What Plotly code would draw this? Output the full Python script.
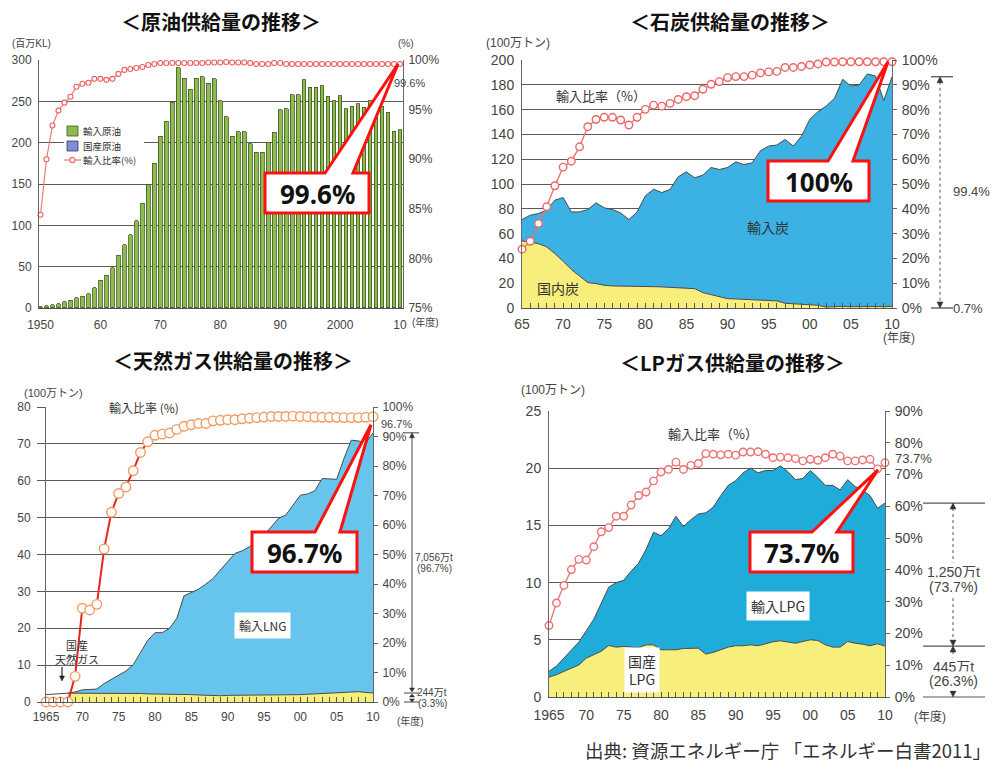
import plotly.graph_objects as go

W, H = 1000, 763
FONT = "Liberation Sans, Noto Sans CJK JP, sans-serif"
JFONT = "Noto Sans CJK JP, sans-serif"
TXT = "#444"
GRID = "#5a5a5a"

# ---------------- data ----------------
oil_years = list(range(1950, 2011))
oil_import = [1.5, 2.5, 3.5, 5, 7, 9, 12, 14, 17, 24,
              33, 39, 48, 63, 76, 88, 105, 126, 148, 174,
              207, 225, 248, 290, 277, 264, 277, 279, 271, 277,
              250, 231, 207, 213, 213, 198, 188, 188, 200, 212,
              239, 240, 257, 257, 275, 266, 266, 268, 255, 250,
              256, 240, 243, 246, 242, 250, 247, 243, 236, 213, 215]
oil_domestic = [0.3, 0.3, 0.4, 0.4, 0.4, 0.4, 0.4, 0.4, 0.5, 0.5,
                0.6, 0.8, 0.9, 0.9, 0.8, 0.8, 0.8, 0.9, 0.9, 0.9,
                0.9, 0.9, 0.8, 0.8, 0.7, 0.7, 0.7, 0.6, 0.6, 0.6,
                0.5, 0.5, 0.5, 0.5, 0.5, 0.6, 0.7, 0.7, 0.7, 0.7,
                0.7, 0.8, 0.8, 0.8, 0.9, 0.9, 0.9, 0.9, 0.9, 0.8,
                0.8, 0.8, 0.8, 0.9, 0.9, 1.0, 1.0, 1.0, 1.0, 0.9, 0.9]
oil_ratio = [84.4, 90.0, 93.4, 94.9, 95.7, 96.3, 97.3, 97.6, 97.7, 98.1,
             98.1, 98.0, 98.1, 98.6, 99.0, 99.1, 99.2, 99.3, 99.5, 99.6,
             99.7, 99.7, 99.7, 99.7, 99.7, 99.7, 99.7, 99.7, 99.75, 99.75,
             99.75, 99.8, 99.75, 99.75, 99.75, 99.7, 99.6, 99.6, 99.6, 99.7,
             99.7, 99.6, 99.6, 99.6, 99.6, 99.6, 99.6, 99.6, 99.6, 99.6,
             99.6, 99.6, 99.6, 99.6, 99.6, 99.6, 99.6, 99.6, 99.6, 99.6, 99.6]

years = list(range(1965, 2011))
coal_total = [71.3, 74.8, 76.2, 78.9, 87.0, 89.1, 77.5, 77.5, 79.4, 84.8,
              80.8, 79.4, 76.7, 71.3, 77.5, 90.4, 95.8, 93.1, 95.6, 105.8,
              109.8, 105.0, 107.1, 113.3, 111.7, 113.3, 117.9, 115.7, 117.1, 126.8,
              130.6, 131.4, 135.9, 130.6, 138.6, 152.1, 158.3, 162.9, 169.0, 184.4,
              179.0, 179.8, 188.7, 187.1, 167.2, 186.5]
coal_domestic = [54.1, 53.3, 51.9, 49.3, 43.9, 37.7, 31.0, 25.8, 20.5, 19.7,
                 18.3, 17.8, 17.8, 17.8, 17.5, 17.5, 17.2, 17.0, 16.7, 16.7,
                 16.4, 15.6, 12.4, 10.8, 9.4, 7.5, 7.3, 7.0, 6.7, 6.5,
                 6.2, 5.7, 3.8, 3.5, 3.0, 2.7, 2.2, 0.8, 1.2, 1.3,
                 1.1, 1.3, 1.4, 1.2, 1.1, 1.3]
coal_ratio = [23.7, 26.9, 34.1, 40.8, 49.3, 56.8, 59.2, 65.0, 73.1, 76.0,
              76.9, 76.9, 75.8, 73.8, 76.9, 80.1, 81.8, 81.4, 82.5, 84.1,
              85.2, 85.6, 88.2, 90.2, 91.3, 92.9, 93.3, 93.3, 93.9, 94.8,
              95.2, 95.4, 97.0, 97.0, 97.4, 98.0, 98.4, 99.2, 99.2, 99.3,
              99.3, 99.3, 99.3, 99.3, 99.3, 99.3]

gas_total = [2.0, 2.1, 2.3, 2.4, 2.7, 3.3, 3.3, 3.5, 5.0, 6.2,
             7.4, 8.4, 10.1, 13.3, 16.7, 18.8, 18.8, 20.0, 22.7, 28.8,
             29.7, 30.6, 32.0, 33.5, 35.8, 38.1, 40.3, 41.0, 42.1, 43.5,
             45.3, 47.5, 49.8, 50.7, 53.4, 56.1, 56.4, 57.3, 60.6, 60.4,
             60.4, 66.0, 71.0, 70.8, 70.2, 73.0]
gas_domestic = [2.0, 2.1, 2.3, 2.4, 2.4, 2.4, 2.4, 2.5, 2.5, 2.4,
                2.4, 2.4, 2.3, 2.3, 2.2, 2.2, 2.1, 2.1, 2.0, 2.0,
                2.0, 1.9, 1.8, 1.8, 1.7, 1.8, 1.8, 1.8, 1.8, 1.8,
                1.9, 1.9, 1.9, 1.9, 2.0, 2.0, 2.1, 2.2, 2.3, 2.4,
                2.5, 2.6, 2.9, 2.8, 2.6, 2.44]
gas_ratio = [0, 0, 0, 0, 8.7, 31.8, 31.2, 33.1, 51.9, 64.3,
             70.7, 72.9, 78.4, 84.6, 88.2, 90.4, 90.8, 91.2, 92.4, 93.5,
             94.0, 94.4, 94.4, 95.3, 95.5, 95.7, 95.7, 96.0, 96.2, 96.4,
             96.6, 96.8, 96.8, 96.8, 96.9, 96.8, 96.7, 96.6, 96.5, 96.5,
             96.5, 96.4, 96.4, 96.4, 96.5, 96.7]
gas_fill_start = 3  # shaded areas begin in FY1968; earlier years drawn as a line only

lpg_total = [2.24, 2.7, 3.4, 4.1, 4.8, 5.8, 6.8, 8.2, 9.6, 10.0,
             10.2, 11.0, 11.7, 12.9, 14.4, 14.1, 14.7, 15.8, 14.9, 15.5,
             16.0, 16.1, 16.6, 17.6, 18.5, 18.9, 19.6, 20.0, 19.6, 19.8,
             19.8, 20.2, 19.7, 19.0, 19.1, 19.8, 19.2, 18.5, 18.5, 18.1,
             19.0, 18.4, 18.1, 17.6, 16.5, 16.95]
lpg_domestic = [1.74, 1.95, 2.24, 2.5, 2.8, 3.4, 3.7, 4.0, 4.5, 4.36,
                4.42, 4.36, 4.3, 4.56, 4.56, 4.13, 4.13, 4.13, 4.24, 4.24,
                4.27, 3.75, 3.9, 4.13, 4.36, 4.48, 4.48, 4.56, 4.48, 4.65,
                4.83, 4.91, 4.83, 4.7, 4.85, 5.0, 4.94, 4.56, 4.36, 4.36,
                4.85, 4.7, 4.62, 4.48, 4.65, 4.45]
lpg_ratio = [22.5, 29.6, 35.1, 40.1, 43.3, 43.1, 47.3, 52.0, 53.3, 56.9,
             56.9, 60.4, 63.4, 64.5, 68.0, 70.8, 71.6, 73.9, 71.6, 72.9,
             73.5, 76.6, 76.4, 76.2, 76.4, 76.1, 77.1, 77.1, 77.2, 76.4,
             75.3, 75.5, 75.3, 75.0, 74.3, 74.8, 74.5, 75.3, 76.4, 75.8,
             74.3, 74.3, 74.6, 74.8, 71.8, 73.7]

oil_ticks = [1950, 1960, 1970, 1980, 1990, 2000, 2010]
oil_ticktext = ["1950", "60", "70", "80", "90", "2000", "10"]
five_ticks = list(range(1965, 2011, 5))
coal_ticktext = ["65", "70", "75", "80", "85", "90", "95", "00", "05", "10"]
gas_ticktext = ["1965", "70", "75", "80", "85", "90", "95", "00", "05", "10"]

# ---------------- layout geometry (pixels) ----------------
P_OIL = dict(x0=39, x1=403, y0=60, y1=308, xr=[1949.75, 2010.5], yl=[0, 300], yr=[75, 100])
P_COAL = dict(x0=522, x1=892, y0=60, y1=308, xr=[1965, 2010], yl=[0, 200], yr=[0, 100])
P_GAS = dict(x0=46, x1=373, y0=407, y1=702, xr=[1965, 2010], yl=[0, 80], yr=[0, 100])
P_LPG = dict(x0=549, x1=885, y0=411, y1=697, xr=[1965, 2010], yl=[0, 25], yr=[0, 90])


def pp(x, y):
    return x / W, 1 - y / H


def to_px(p, xv, yv, right=False):
    rng = p['yr'] if right else p['yl']
    px = p['x0'] + (xv - p['xr'][0]) / (p['xr'][1] - p['xr'][0]) * (p['x1'] - p['x0'])
    py = p['y1'] - (yv - rng[0]) / (rng[1] - rng[0]) * (p['y1'] - p['y0'])
    return px, py


OIL_GREEN = "#8dbb50"
OIL_GREEN_LINE = "#3e5d1f"
OIL_BLUE = "#7f8fd6"
OIL_LINE = "#f07a7a"
OIL_MARK = "#ee5f5f"
YELLOW = "#f7ee7c"
OUTLINE = "#4a4a4a"

fig = go.Figure()

# ---- oil ----
fig.add_trace(go.Bar(x=oil_years, y=oil_domestic, name="国産原油", showlegend=False,
                     marker=dict(color=OIL_BLUE, line=dict(color="#2f3a66", width=0.6)),
                     width=0.62, xaxis="x", yaxis="y"))
fig.add_trace(go.Bar(x=oil_years, y=oil_import, name="輸入原油", showlegend=False,
                     marker=dict(color=OIL_GREEN, line=dict(color=OIL_GREEN_LINE, width=0.8)),
                     width=0.62, xaxis="x", yaxis="y"))
fig.add_trace(go.Scatter(x=oil_years, y=oil_ratio, name="輸入比率(%)", showlegend=False,
                         mode="lines+markers", xaxis="x", yaxis="y2", cliponaxis=False,
                         line=dict(color=OIL_LINE, width=1.2),
                         marker=dict(symbol="circle", size=5, color="white",
                                     line=dict(color=OIL_MARK, width=1.1))))


def add_area(x, dom, tot, xa, ya_l, blue):
    fig.add_trace(go.Scatter(x=x, y=dom, mode="lines", fill="tozeroy", fillcolor=YELLOW,
                             line=dict(color=OUTLINE, width=1), showlegend=False,
                             xaxis=xa, yaxis=ya_l))
    fig.add_trace(go.Scatter(x=x, y=tot, mode="lines", fill="tonexty", fillcolor=blue,
                             line=dict(color=OUTLINE, width=1), showlegend=False,
                             xaxis=xa, yaxis=ya_l))


def add_ratio(x, ratio, xa, ya_r, mcol, lcol, msize, lw):
    fig.add_trace(go.Scatter(x=x, y=ratio, mode="lines+markers", showlegend=False,
                             cliponaxis=False, xaxis=xa, yaxis=ya_r,
                             line=dict(color=lcol, width=lw),
                             marker=dict(symbol="circle", size=msize, color="white",
                                         line=dict(color=mcol, width=1.4))))


add_area(years, coal_domestic, coal_total, "x2", "y3", "#3cb1e3")
add_ratio(years, coal_ratio, "x2", "y4", "#ec6666", "#ee7070", 7.5, 1.4)

s = gas_fill_start
fig.add_trace(go.Scatter(x=years[:s + 1], y=gas_total[:s + 1], mode="lines",
                         line=dict(color=OUTLINE, width=1), showlegend=False,
                         xaxis="x3", yaxis="y5"))
add_area(years[s:], gas_domestic[s:], gas_total[s:], "x3", "y5", "#67c4ec")
add_ratio(years, gas_ratio, "x3", "y6", "#f29a62", "#e8251e", 9.5, 2)

add_area(years, lpg_domestic, lpg_total, "x4", "y7", "#20acd9")
add_ratio(years, lpg_ratio, "x4", "y8", "#ee7272", "#ef7676", 7.5, 1.4)


def xdom(p):
    return [p['x0'] / W, p['x1'] / W]


def ydom(p):
    return [1 - p['y1'] / H, 1 - p['y0'] / H]


def left_axis(p, xa, dtick, size, ticks="", ticklen=0):
    return dict(domain=ydom(p), anchor=xa, range=p['yl'], dtick=dtick, tick0=0,
                showgrid=True, gridcolor=GRID, gridwidth=1, zeroline=False,
                showline=True, linecolor="#666", linewidth=1, automargin=False,
                ticks=ticks, ticklen=ticklen, tickcolor=GRID,
                tickfont=dict(size=size, color=TXT, family=FONT), ticklabelstandoff=4)


def right_axis(p, xa, over, dtick, size, ticks="outside", ticklen=4):
    return dict(overlaying=over, side="right", anchor=xa, range=p['yr'], dtick=dtick,
                tick0=p['yr'][0], ticksuffix="%", showgrid=False, zeroline=False,
                showline=True, linecolor="#666", linewidth=1, automargin=False,
                ticks=ticks, ticklen=ticklen, tickcolor="#666",
                tickfont=dict(size=size, color=TXT, family=FONT), ticklabelstandoff=2)


def x_axis(p, ya, tickvals, ticktext, size, minor=True, standoff=4):
    d = dict(domain=xdom(p), anchor=ya, range=p['xr'], tickmode="array",
             tickvals=tickvals, ticktext=ticktext, showgrid=False, zeroline=False,
             showline=True, linecolor="#555", linewidth=1, automargin=False,
             tickfont=dict(size=size, color=TXT, family=FONT), ticklabelstandoff=standoff)
    if minor:
        d.update(ticks="inside", ticklen=5, tickcolor="#555",
                 minor=dict(dtick=1, tick0=1965, ticks="inside", ticklen=5, tickcolor="#555"))
    else:
        d.update(ticks="")
    return d


fig.update_layout(
    width=W, height=H, margin=dict(l=0, r=0, t=0, b=0, pad=0, autoexpand=False),
    paper_bgcolor="white", plot_bgcolor="white", barmode="stack", showlegend=False,
    font=dict(family=FONT, color=TXT),
    xaxis=x_axis(P_OIL, "y", oil_ticks, oil_ticktext, 12, minor=False, standoff=6),
    yaxis=left_axis(P_OIL, "x", 50, 12),
    yaxis2=right_axis(P_OIL, "x", "y", 5, 12, ticks=""),
    xaxis2=x_axis(P_COAL, "y3", five_ticks, coal_ticktext, 14, standoff=3),
    yaxis3=left_axis(P_COAL, "x2", 20, 14),
    yaxis4=right_axis(P_COAL, "x2", "y3", 10, 14),
    xaxis3=x_axis(P_GAS, "y5", five_ticks, gas_ticktext, 12, standoff=4),
    yaxis5=left_axis(P_GAS, "x3", 10, 12, ticks="outside", ticklen=8),
    yaxis6=right_axis(P_GAS, "x3", "y5", 10, 12),
    xaxis4=x_axis(P_LPG, "y7", five_ticks, gas_ticktext, 14, standoff=5),
    yaxis7=left_axis(P_LPG, "x4", 5, 14),
    yaxis8=right_axis(P_LPG, "x4", "y7", 10, 14),
)

shapes = []
annots = []


def pts_path(pts, close=True):
    s_ = "M " + " L ".join(f"{x / W:.5f},{1 - y / H:.5f}" for x, y in pts)
    return s_ + (" Z" if close else "")


def line_px(x0, y0, x1, y1, color="#555", width=1, dash="solid"):
    a, b = pp(x0, y0)
    c, d = pp(x1, y1)
    shapes.append(dict(type="line", xref="paper", yref="paper", x0=a, y0=b, x1=c, y1=d,
                       line=dict(color=color, width=width, dash=dash), layer="above"))


def rect_px(x0, y0, x1, y1, fill, line="rgba(0,0,0,0)", lw=0):
    a, b = pp(x0, y0)
    c, d = pp(x1, y1)
    shapes.append(dict(type="rect", xref="paper", yref="paper", x0=a, y0=b, x1=c, y1=d,
                       fillcolor=fill, line=dict(color=line, width=lw), layer="above"))


def circ_px(x, y, r, fill, line, lw):
    a, b = pp(x - r, y - r)
    c, d = pp(x + r, y + r)
    shapes.append(dict(type="circle", xref="paper", yref="paper", x0=a, y0=b, x1=c, y1=d,
                       fillcolor=fill, line=dict(color=line, width=lw), layer="above"))


def tri(x, y, up=True, s=3, h=6, color="#333"):
    yb = y + h if up else y - h
    shapes.append(dict(type="path", xref="paper", yref="paper",
                       path=pts_path([(x, y), (x - s, yb), (x + s, yb)]),
                       fillcolor=color, line=dict(color=color, width=0.5), layer="above"))


def text_px(x, y, text, size=12, color=TXT, bg="rgba(0,0,0,0)", xanchor="center",
            family=FONT, pad=1):
    a, b = pp(x, y)
    annots.append(dict(xref="paper", yref="paper", x=a, y=b, text=text, showarrow=False,
                       xanchor=xanchor, yanchor="middle", bgcolor=bg, borderpad=pad,
                       font=dict(size=size, color=color, family=family)))


def callout(box, base, tip, text):
    x0, y0, x1, y1 = box
    bl, br = base
    tx, ty = tip
    shapes.append(dict(type="path", xref="paper", yref="paper",
                       path=pts_path([(x0, y0), (bl, y0), (tx, ty), (br, y0), (x1, y0),
                                      (x1, y1), (x0, y1)]),
                       fillcolor="white", line=dict(color="#ff1010", width=3), layer="above"))
    text_px((x0 + x1) / 2, (y0 + y1) / 2 + 1, "<b>" + text + "</b>", size=26, color="#111",
            family="Noto Sans, sans-serif")


# titles
text_px(221, 21, "<b>＜原油供給量の推移＞</b>", 20, "#111", family=JFONT)
text_px(730, 21, "<b>＜石炭供給量の推移＞</b>", 20, "#111", family=JFONT)
text_px(233, 361, "<b>＜天然ガス供給量の推移＞</b>", 20, "#111", family=JFONT)
text_px(732, 362, "<b>＜LPガス供給量の推移＞</b>", 20, "#111", family=JFONT)
text_px(788, 750, "出典: 資源エネルギー庁 「エネルギー白書2011」", 18.5, "#333", family=JFONT)

# unit labels
text_px(31, 43, "(百万KL)", 10)
text_px(406, 43, "(%)", 10)
text_px(425, 322, "(年度)", 10)
text_px(518, 43, "(100万トン)", 12)
text_px(899, 338, "(年度)", 12)
text_px(53, 393, "(100万トン)", 11)
text_px(410, 721, "(年度)", 10)
text_px(553, 390, "(100万トン)", 12)
text_px(930, 717, "(年度)", 12)

# oil legend (drawn by hand to match the compact original)
rect_px(64, 122, 144, 167, "white")
rect_px(67, 126, 78, 136, OIL_GREEN, OIL_GREEN_LINE, 0.8)
rect_px(67, 141, 78, 151, OIL_BLUE, "#2f3a66", 0.8)
line_px(64, 160, 81, 160, OIL_LINE, 1.2)
circ_px(72.5, 160, 2.6, "white", OIL_MARK, 1.1)
text_px(81, 131, "輸入原油", 9.5, "#333", xanchor="left", family=JFONT)
text_px(81, 146, "国産原油", 9.5, "#333", xanchor="left", family=JFONT)
text_px(81, 160, "輸入比率(%)", 9.5, "#333", xanchor="left", family=JFONT)

# oil
tip = to_px(P_OIL, oil_years[-1], oil_ratio[-1], right=True)
callout((265, 173, 369, 213), (325, 353), (tip[0] - 2, tip[1]), "99.6%")
text_px(409, 83, "99.6%", 11)

# coal
text_px(601, 95, "輸入比率（%）", 13, "#333", family=JFONT)
text_px(768, 227, "輸入炭", 14, "#333", family=JFONT)
text_px(558, 288, "国内炭", 14, "#333", family=JFONT)
tip = to_px(P_COAL, years[-1], coal_ratio[-1], right=True)
callout((768, 161, 869, 201), (828, 853), (tip[0] - 4, tip[1]), "100%")
ytop = to_px(P_COAL, years[-1], coal_total[-1])[1]
ybot = to_px(P_COAL, years[-1], 0)[1]
line_px(931, ytop, 953, ytop, "#444", 1.2)
line_px(931, ybot, 953, ybot, "#444", 1.2)
line_px(940, ytop + 5, 940, ybot - 5, "#555", 1, "dot")
tri(940, ytop, up=True)
tri(940, ybot, up=False)
text_px(971, 192, "99.4%", 13)
text_px(968, ybot, "0.7%", 13)

# gas
text_px(144, 407, "輸入比率 (%)", 12, "#333", bg="white", family=JFONT, pad=3)
text_px(262, 625, "輸入LNG", 12, "#333", bg="white", family=JFONT, pad=4)
text_px(77, 652, "国産<br>天然ガス", 11, "#333", family=JFONT)
line_px(62, 667, 62, 676, "#222", 1.2)
tri(62, 681, up=False, s=2.5, h=5, color="#222")
tip = to_px(P_GAS, years[-1], gas_ratio[-1], right=True)
callout((252, 532, 357, 572), (315, 340), (tip[0] - 2, tip[1] + 8), "96.7%")
text_px(396, 424, "96.7%", 11)
gtop = to_px(P_GAS, years[-1], gas_total[-1])[1]
gmid = to_px(P_GAS, years[-1], gas_domestic[-1])[1]
gbot = to_px(P_GAS, years[-1], 0)[1]
line_px(404, gtop, 419, gtop, "#444", 1)
line_px(404, gmid, 419, gmid, "#444", 1)
line_px(404, gbot, 419, gbot, "#444", 1)
line_px(412, gtop + 4, 412, gmid - 4, "#444", 1)
tri(412, gtop, up=True, s=2.5, h=5)
tri(412, gmid - 1, up=False, s=2.5, h=4)
tri(412, gmid + 1, up=True, s=2.5, h=3)
tri(412, gbot, up=False, s=2.5, h=3)
text_px(434, 557, "7,056万t", 10)
text_px(434, 568, "(96.7%)", 10)
text_px(432, 692, "244万t", 10)
text_px(432, 703, "(3.3%)", 10)

# lpg
text_px(713, 433, "輸入比率（%）", 13, "#333", family=JFONT)
text_px(778, 606, "輸入LPG", 14, "#333", bg="white", family=JFONT, pad=4)
text_px(642, 670, "国産<br>LPG", 14, "#333", bg="white", family=JFONT, pad=3)
tip = to_px(P_LPG, years[-1], lpg_ratio[-1], right=True)
callout((750, 532, 853, 572), (812, 837), (tip[0] - 7, tip[1] + 7), "73.7%")
text_px(913, 459, "73.7%", 13)
ltop = to_px(P_LPG, years[-1], lpg_total[-1])[1]
lmid = to_px(P_LPG, years[-1], lpg_domestic[-1])[1]
lbot = to_px(P_LPG, years[-1], 0)[1]
for yy in (ltop, lmid, lbot):
    line_px(923, yy, 985, yy, "#555", 1.2)
line_px(953, ltop + 5, 953, lmid - 5, "#555", 1, "dot")
line_px(953, lmid + 5, 953, lbot - 5, "#555", 1, "dot")
tri(953, ltop, up=True)
tri(953, lmid, up=False)
tri(953, lmid, up=True)
tri(953, lbot, up=False)
text_px(953, 572, "1,250万t", 14, bg="white")
text_px(953, 587, "(73.7%)", 14, bg="white")
text_px(953, 667, "445万t", 14, bg="white")
text_px(953, 681, "(26.3%)", 14, bg="white")

fig.update_layout(shapes=shapes, annotations=annots)

fig.write_html("out.html", config={"displayModeBar": False},
               post_script="document.body.style.margin='0';")
